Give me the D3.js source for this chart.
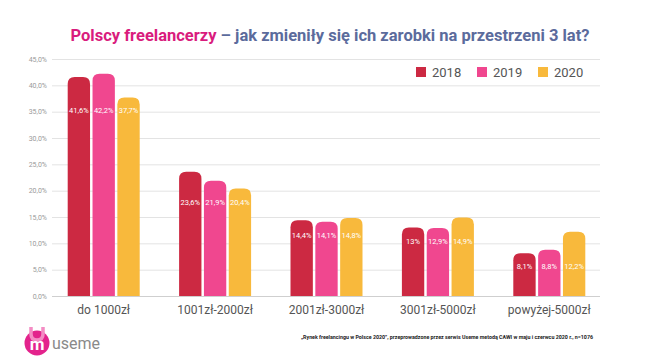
<!DOCTYPE html>
<html>
<head>
<meta charset="utf-8">
<script src="https://cdn.jsdelivr.net/npm/d3@7"></script>
<style>
body { margin: 0; background: #fff; font-family: Roboto, "Noto Sans", sans-serif; }
</style>
</head>
<body>
<div id="chart"></div>
<script>
// categories and series
var categories = ['do 1000zł', '1001zł-2000zł', '2001zł-3000zł', '3001zł-5000zł', 'powyżej-5000zł'];
var years = ['2018', '2019', '2020'];
var v2018 = [41.6, 23.6, 14.4, 13, 8.1];
var v2019 = [42.2, 21.9, 14.1, 12.9, 8.8];
var v2020 = [37.7, 20.4, 14.8, 14.9, 12.2];
var labels2018 = ['41,6%', '23,6%', '14,4%', '13%', '8,1%'];
var labels2019 = ['42,2%', '21,9%', '14,1%', '12,9%', '8,8%'];
var labels2020 = ['37,7%', '20,4%', '14,8%', '14,9%', '12,2%'];
var yTicks = [0, 5, 10, 15, 20, 25, 30, 35, 40, 45];
var yTickLabels = ['0,0%', '5,0%', '10,0%', '15,0%', '20,0%', '25,0%', '30,0%', '35,0%', '40,0%', '45,0%'];

var colors = { '2018': '#cc2942', '2019': '#f0478f', '2020': '#f8b93c' };
var series = { '2018': v2018, '2019': v2019, '2020': v2020 };
var seriesLabels = { '2018': labels2018, '2019': labels2019, '2020': labels2020 };

var width = 655, height = 362;

var svg = d3.select('#chart')
	.append('svg')
	.attr('width', width)
	.attr('height', height);

//Title
var title = svg.append('text')
	.attr('x', 330)
	.attr('y', 41)
	.attr('text-anchor', 'middle')
	.style('font-size', '16.5px')
	.style('font-weight', 'bold');
title.append('tspan').attr('fill', '#d91c7d').text('Polscy freelancerzy');
title.append('tspan').attr('fill', '#5b6b9c').text(' – jak zmieniły się ich zarobki na przestrzeni 3 lat?');

//Scales
var x = d3.scaleBand().domain(categories).range([48, 605]);
var xInner = d3.scaleBand().domain(years).range([0, 72]).paddingInner(0.1);
var y = d3.scaleLinear().domain([0, 45]).range([296, 59]);

//Grid + Y axis
var yAxis = svg.append('g')
	.attr('transform', 'translate(52,0)')
	.call(d3.axisLeft(y).tickValues(yTicks).tickSize(0).tickPadding(5)
		.tickFormat(function(d, i) { return yTickLabels[i]; }));
yAxis.select('.domain').remove();
yAxis.selectAll('text').attr('fill', '#9a9a9a').style('font-size', '7px').style('font-family', 'Roboto, sans-serif');
yAxis.selectAll('.tick').append('line')
	.attr('x1', 0).attr('x2', 548)
	.attr('stroke', function(d) { return d === 0 ? '#cfcfcf' : '#e3e3e3'; })
	.attr('stroke-width', 1);

//Bars with rounded tops
function barPath(x0, w, top, bottom, r) {
	r = Math.min(r, w / 2, bottom - top);
	return 'M' + x0 + ',' + bottom +
		'V' + (top + r) +
		'Q' + x0 + ',' + top + ' ' + (x0 + r) + ',' + top +
		'H' + (x0 + w - r) +
		'Q' + (x0 + w) + ',' + top + ' ' + (x0 + w) + ',' + (top + r) +
		'V' + bottom + 'Z';
}

var groups = svg.append('g').selectAll('g')
	.data(categories)
	.enter()
	.append('g')
	.attr('transform', function(d) {
		return 'translate(' + (x(d) + (x.bandwidth() - 72) / 2) + ',0)';
	});

years.forEach(function(yr) {
	groups.append('path')
		.attr('d', function(d, i) {
			return barPath(xInner(yr), xInner.bandwidth(), y(series[yr][i]), y(0), 7);
		})
		.attr('fill', colors[yr]);
});

//Value labels inside bars
years.forEach(function(yr) {
	groups.append('text')
		.attr('x', xInner(yr) + xInner.bandwidth() / 2)
		.attr('y', function(d, i) {
			var m = Math.min(v2018[i], v2019[i], v2020[i]);
			return y(m) + 16;
		})
		.attr('text-anchor', 'middle')
		.attr('fill', '#fff')
		.style('font-size', '7.5px')
		.text(function(d, i) { return seriesLabels[yr][i]; });
});

//X axis labels
var xAxis = svg.append('g')
	.attr('transform', 'translate(0,296)')
	.call(d3.axisBottom(x).tickSize(0).tickPadding(9));
xAxis.select('.domain').remove();
xAxis.selectAll('text').attr('fill', '#555').style('font-size', '12px').style('font-family', 'Roboto, sans-serif');

//Legend
var legend = svg.append('g')
	.selectAll('g')
	.data(years)
	.enter()
	.append('g')
	.attr('transform', function(d, i) { return 'translate(' + (416 + i * 61) + ',67)'; });
legend.append('rect').attr('width', 10).attr('height', 10).attr('fill', function(d) { return colors[d]; });
legend.append('text').attr('x', 16).attr('y', 9.5).attr('fill', '#555').style('font-size', '13px').text(function(d) { return d; });

//Logo
var logo = svg.append('g').attr('transform', 'translate(37,343)');
logo.append('circle').attr('r', 12.5).attr('fill', '#e3238c');
logo.append('path').attr('d', 'M-6,-16 V-9 Q-6,-3 0,-3 Q6,-3 6,-9 V-16').attr('fill', 'none').attr('stroke', '#f48cc4').attr('stroke-width', 3.5);
logo.append('text').attr('y', 7).attr('text-anchor', 'middle').attr('fill', '#fff')
	.style('font-size', '17px').style('font-weight', 'bold').text('m');
svg.append('text').attr('x', 52).attr('y', 349).attr('fill', '#8a8a8a').style('font-size', '16px').text('useme');

//Footer
svg.append('text')
	.attr('x', 593)
	.attr('y', 339)
	.attr('text-anchor', 'end')
	.attr('fill', '#222')
	.style('font-size', '5.3px')
	.style('font-weight', 'bold')
	.text('„Rynek freelancingu w Polsce 2020”, przeprowadzone przez serwis Useme metodą CAWI w maju i czerwcu 2020 r., n=1076');
</script>
</body>
</html>
